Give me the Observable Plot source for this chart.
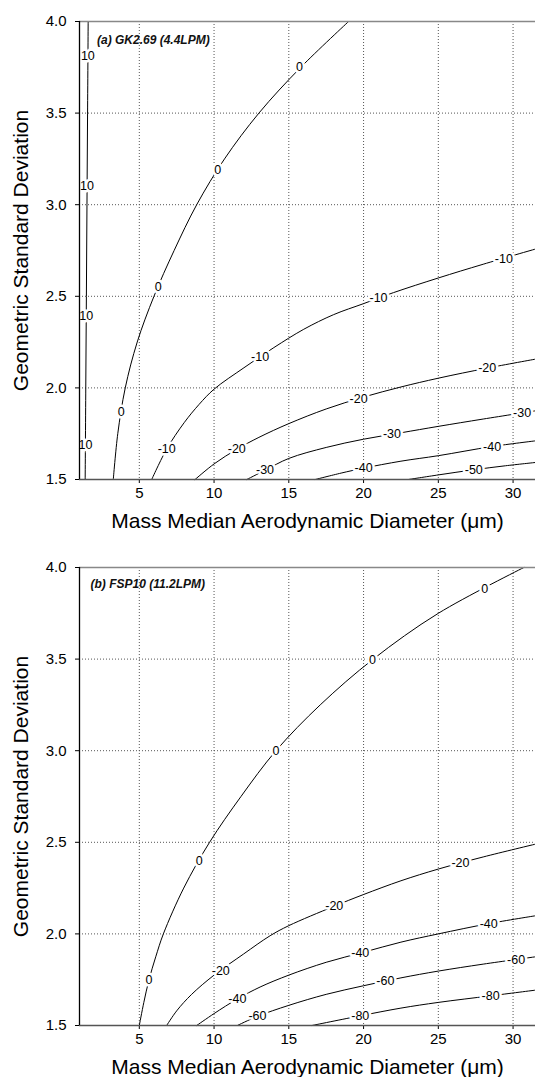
<!DOCTYPE html>
<html>
<head>
<meta charset="utf-8">
<script src="https://cdn.jsdelivr.net/npm/d3@7"></script>
<script src="https://cdn.jsdelivr.net/npm/@observablehq/plot@0.6"></script>
<style>
  html, body { margin: 0; padding: 0; background: #fff; }
  #chart svg { display: block; }
</style>
</head>
<body>
<div id="chart"></div>
<script>
// ---------- shared axes ----------
const xTicks = [5, 10, 15, 20, 25, 30];
const yTicks = [1.5, 2.0, 2.5, 3.0, 3.5, 4.0];
const xLabel = "Mass Median Aerodynamic Diameter (μm)";
const yLabel = "Geometric Standard Deviation";

// ---------- panel (a) GK2.69 ----------
const titleA = "(a) GK2.69 (4.4LPM)";
const a_p10  = [[1.38,1.5],[1.42,2.0],[1.46,2.5],[1.5,3.0],[1.54,3.5],[1.58,4.0]];
const a_0    = [[3.26,1.5],[3.56,1.75],[4.06,2.0],[4.86,2.25],[5.98,2.5],[7.33,2.75],[8.84,3.0],[10.7,3.25],[13.0,3.5],[15.8,3.75],[19.0,4.0]];
const a_m10  = [[5.83,1.5],[6.83,1.666],[8.0,1.81],[9.0,1.91],[10.0,1.993],[12.0,2.11],[14.0,2.22],[16.0,2.32],[18.0,2.4],[20.0,2.46],[22.0,2.52],[25.0,2.6],[28.0,2.675],[31.5,2.758]];
const a_m20  = [[8.73,1.5],[10.0,1.585],[11.52,1.665],[13.0,1.73],[15.0,1.805],[17.5,1.885],[20.0,1.95],[22.5,2.005],[25.0,2.053],[28.27,2.108],[31.5,2.157]];
const a_m30  = [[12.19,1.5],[13.4,1.55],[15.0,1.615],[17.5,1.675],[20.0,1.72],[22.5,1.755],[25.0,1.79],[28.0,1.83],[31.5,1.875]];
const a_m40  = [[16.77,1.5],[18.5,1.535],[20.0,1.562],[22.5,1.6],[25.0,1.63],[28.6,1.68],[31.5,1.711]];
const a_m50  = [[23.0,1.5],[25.0,1.525],[27.37,1.553],[29.5,1.575],[31.5,1.593]];
const a_levels = [10, 0, -10, -20, -30, -40, -50];
const a_lines  = [a_p10, a_0, a_m10, a_m20, a_m30, a_m40, a_m50];
const a_labels = [
  [1.56,3.81,"10"],[1.5,3.10,"10"],[1.45,2.39,"10"],[1.40,1.69,"10"],
  [3.79,1.866,"0"],[6.27,2.553,"0"],[10.25,3.19,"0"],[15.72,3.749,"0"],
  [6.83,1.666,"-10"],[13.08,2.17,"-10"],[21.0,2.49,"-10"],[29.38,2.705,"-10"],
  [11.52,1.665,"-20"],[19.67,1.942,"-20"],[28.27,2.108,"-20"],
  [13.41,1.55,"-30"],[21.9,1.747,"-30"],[30.6,1.864,"-30"],
  [20.0,1.562,"-40"],[28.6,1.68,"-40"],
  [27.37,1.553,"-50"]
];

// ---------- panel (b) FSP10 ----------
const titleB = "(b) FSP10 (11.2LPM)";
const b_0    = [[5.0,1.5],[5.3,1.625],[5.65,1.75],[6.1,1.875],[6.61,2.0],[7.97,2.25],[9.7,2.5],[11.8,2.75],[14.14,3.0],[17.1,3.25],[20.65,3.5],[25.0,3.75],[30.72,4.0]];
const b_m20  = [[6.83,1.5],[7.5,1.58],[8.5,1.67],[10.0,1.775],[11.97,1.89],[13.75,1.99],[15.0,2.045],[18.0,2.15],[20.0,2.215],[22.5,2.29],[25.0,2.354],[28.0,2.42],[31.5,2.49]];
const b_m40  = [[8.84,1.5],[10.0,1.565],[11.56,1.645],[13.08,1.71],[15.0,1.775],[17.5,1.845],[20.0,1.9],[22.5,1.955],[25.0,2.0],[28.37,2.056],[31.5,2.099]];
const b_m60  = [[11.56,1.5],[12.9,1.55],[15.0,1.61],[17.5,1.67],[20.0,1.717],[22.5,1.76],[25.0,1.797],[28.0,1.835],[31.5,1.875]];
const b_m80  = [[16.55,1.5],[19.78,1.553],[22.5,1.595],[25.0,1.626],[28.5,1.662],[31.5,1.693]];
const b_levels = [0, -20, -40, -60, -80];
const b_lines  = [b_0, b_m20, b_m40, b_m60, b_m80];
const b_labels = [
  [5.65,1.75,"0"],[9.0,2.4,"0"],[14.14,3.0,"0"],[20.6,3.497,"0"],[28.1,3.88,"0"],
  [10.45,1.8,"-20"],[18.04,2.152,"-20"],[26.48,2.385,"-20"],
  [11.56,1.645,"-40"],[19.78,1.894,"-40"],[28.37,2.056,"-40"],
  [12.9,1.55,"-60"],[21.46,1.742,"-60"],[30.2,1.857,"-60"],
  [19.78,1.553,"-80"],[28.5,1.662,"-80"]
];

function rows(levels, lines) {
  const out = [];
  levels.forEach((lv, i) => lines[i].forEach(p => out.push({level: lv, x: p[0], y: p[1]})));
  return out;
}

function panel({title, levels, lines, labels, height, marginTop, marginBottom, titleDx, titleDy}) {
  return Plot.plot({
    width: 535,
    height,
    marginLeft: 79,
    marginRight: 0,
    marginTop,
    marginBottom,
    style: {fontFamily: "'Liberation Sans', Arial, sans-serif", fontSize: "15px", background: "white", color: "black", overflow: "visible"},
    x: {domain: [1, 31.5], ticks: xTicks, tickSize: 4, tickPadding: 4, label: null, tickFormat: d => d},
    y: {domain: [1.5, 4.0], ticks: yTicks, tickSize: 4, tickPadding: 9, label: null, tickFormat: ".1f"},
    marks: [
      Plot.ruleX(xTicks, {stroke: "#555", strokeWidth: 1, strokeDasharray: "1,2"}),
      Plot.ruleY(yTicks.slice(1, 5), {stroke: "#555", strokeWidth: 1, strokeDasharray: "1,2"}),
      Plot.line(rows(levels, lines), {x: "x", y: "y", z: "level", curve: "catmull-rom", stroke: "black", strokeWidth: 1}),
      Plot.text(labels, {x: d => d[0], y: d => d[1], text: d => d[2], fontSize: 12.5, fill: "black", stroke: "white", strokeWidth: 5, paintOrder: "stroke"}),
      Plot.ruleY([4.0], {stroke: "#888", strokeWidth: 1.5}),
      Plot.ruleY([1.5], {stroke: "#555", strokeWidth: 1.3}),
      Plot.ruleX([1], {stroke: "black", strokeWidth: 1.3}),
      Plot.text([title], {frameAnchor: "top-left", dx: titleDx, dy: titleDy, text: d => d, textAnchor: "start", lineAnchor: "middle", fontSize: 12, fontWeight: "bold", fontStyle: "italic", fill: "#111"}),
      Plot.text([xLabel], {frameAnchor: "bottom", dy: 42, text: d => d, textAnchor: "middle", lineAnchor: "middle", fontSize: 21}),
      Plot.text([yLabel], {frameAnchor: "left", dx: -58, rotate: -90, text: d => d, textAnchor: "middle", lineAnchor: "middle", fontSize: 21})
    ]
  });
}

const chart = document.getElementById("chart");
chart.append(panel({title: titleA, levels: a_levels, lines: a_lines, labels: a_labels, height: 530, marginTop: 21, marginBottom: 51, titleDx: 17.5, titleDy: 19}));
chart.append(panel({title: titleB, levels: b_levels, lines: b_lines, labels: b_labels, height: 547, marginTop: 37, marginBottom: 52, titleDx: 11, titleDy: 16.5}));
</script>
</body>
</html>
